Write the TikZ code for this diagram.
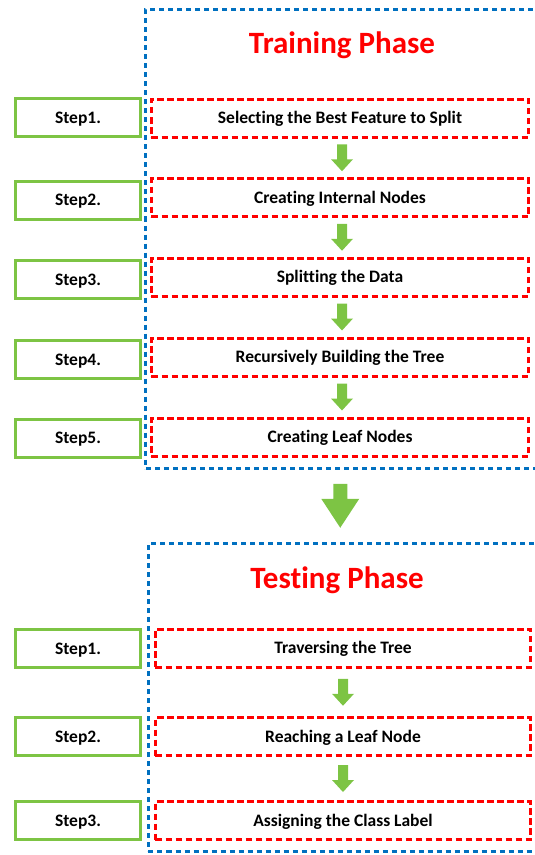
\documentclass[tikz,border=0pt]{standalone}
\usepackage{fontspec}
\setmainfont[Ligatures=NoCommon]{Carlito}
\usetikzlibrary{calc}

\definecolor{stepgreen}{RGB}{125,196,68}
\definecolor{taskred}{RGB}{255,0,0}
\definecolor{phaseblue}{RGB}{0,112,192}

\tikzset{
  boxtext/.style={font=\fontsize{17.5bp}{20bp}\selectfont\bfseries,
    text height=11.5bp, text depth=0pt},
  stepbox/.style={boxtext, draw=stepgreen, line width=3bp, fill=white,
    minimum width=125bp, minimum height=38bp, inner sep=0pt},
  taskbox/.style={boxtext, draw=taskred, line width=3bp, dash pattern=on 6.5bp off 3.5bp,
    minimum height=38bp, inner sep=0pt},
  phasebox/.style={draw=phaseblue, line width=3bp,
    dash pattern=on 5bp off 4bp, inner sep=0pt},
  phasetitle/.style={text=taskred, inner sep=0pt,
    font=\fontsize{31bp}{36bp}\selectfont\bfseries,
    text height=20bp, text depth=0pt},
  smallarrow/.pic={\fill[stepgreen] (-5,-13.5) -- (5,-13.5) -- (5,1.5) -- (11,1.5)
      -- (0,13.5) -- (-11,1.5) -- (-5,1.5) -- cycle;},
  bigarrow/.pic={\fill[stepgreen] (-7,-22) -- (7,-22) -- (7,-7) -- (19,-7)
      -- (0,22) -- (-19,-7) -- (-7,-7) -- cycle;}
}

\begin{document}
\begin{tikzpicture}[x=1bp, y=-1bp]
  \useasboundingbox (0,0) rectangle (535,855);
  \clip (0,0) rectangle (535,855);

  % phase frames (they run past the right edge)
  \node[phasebox, minimum width=414bp, minimum height=459bp] (train) at (353,239) {};
  \node[phasebox, minimum width=412bp, minimum height=308bp] (test) at (354.5,697) {};

  \node[phasetitle] (traintitle) at (342,43) {Training Phase};
  \node[phasetitle] (testtitle) at (337,578) {Testing Phase};

  % training steps
  \node[stepbox] (s1) at (78,117.5) {Step1.};
  \node[stepbox] (s2) at (78,200) {Step2.};
  \node[stepbox] (s3) at (78,279.5) {Step3.};
  \node[stepbox] (s4) at (78,359.5) {Step4.};
  \node[stepbox] (s5) at (78,438) {Step5.};

  \node[taskbox, minimum width=377bp] (t1) at (340,118) {Selecting the Best Feature to Split};
  \node[taskbox, minimum width=377bp] (t2) at (340,197.5) {Creating Internal Nodes};
  \node[taskbox, minimum width=377bp] (t3) at (340,277) {Splitting the Data};
  \node[taskbox, minimum width=377bp] (t4) at (340,357) {Recursively Building the Tree};
  \node[taskbox, minimum width=377bp] (t5) at (340,437) {Creating Leaf Nodes};

  % testing steps
  \node[stepbox] (u1) at (78,648.5) {Step1.};
  \node[stepbox] (u2) at (78,736.5) {Step2.};
  \node[stepbox] (u3) at (78,820.5) {Step3.};

  \node[taskbox, minimum width=375bp] (v1) at (343,648) {Traversing the Tree};
  \node[taskbox, minimum width=375bp] (v2) at (343,736.5) {Reaching a Leaf Node};
  \node[taskbox, minimum width=375bp] (v3) at (343,820.5) {Assigning the Class Label};

  % flow arrows
  \foreach \a/\b in {t1/t2, t2/t3, t3/t4, t4/t5}
    \pic[xshift=2bp] at ($(\a.south)!0.5!(\b.north)$) {smallarrow};
  \foreach \a/\b in {v1/v2, v2/v3}
    \pic at ($(\a.south)!0.5!(\b.north)$) {smallarrow};
  \pic at ($(train.south)!0.5!(test.north) + (-13.5,0)$) {bigarrow};
\end{tikzpicture}
\end{document}
